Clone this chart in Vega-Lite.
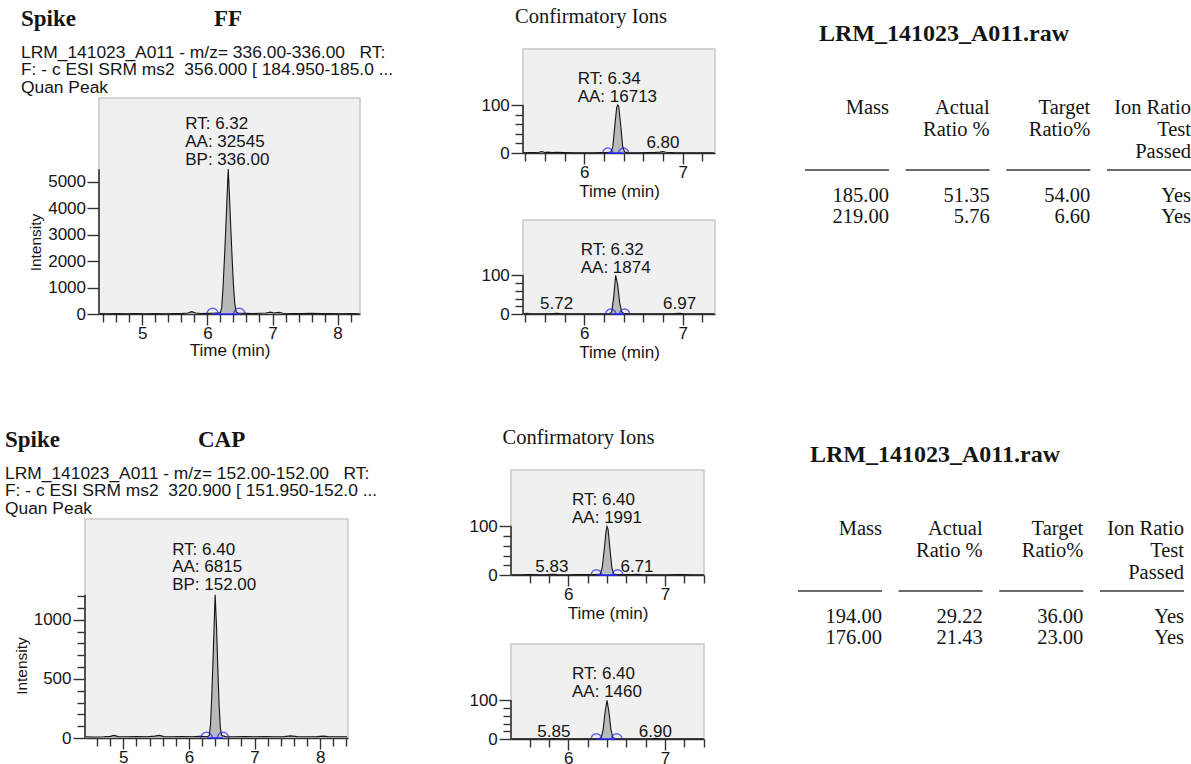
{
  "$schema": "https://vega.github.io/schema/vega-lite/v6.json",
  "background": "white",
  "padding": {"left": 5, "top": 5, "right": 0, "bottom": 0},
  "config": {
    "view": {"stroke": null},
    "font": "Liberation Sans",
    "axis": {
      "domainColor": "#333333", "domainWidth": 1.6,
      "tickColor": "#333333", "tickWidth": 1.4,
      "labelFont": "Liberation Sans", "labelFontSize": 17, "labelColor": "#151515",
      "titleFont": "Liberation Sans", "titleFontSize": 17, "titleFontWeight": "normal", "titleColor": "#151515",
      "grid": false, "labelFlush": false, "labelOverlap": false
    },
    "axisY": {"titleFontSize": 15.5},
    "text": {"font": "Liberation Sans", "fontSize": 17, "color": "#151515"},
    "title": {"color": "#151515"}
  },
  "datasets": {
    "ffQuan": [
      {"t": 4.34, "v": 15}, {"t": 4.45, "v": 10}, {"t": 4.6, "v": 20}, {"t": 4.75, "v": 10}, {"t": 4.9, "v": 15},
      {"t": 5.05, "v": 10}, {"t": 5.2, "v": 20}, {"t": 5.35, "v": 10}, {"t": 5.5, "v": 15}, {"t": 5.62, "v": 25},
      {"t": 5.7, "v": 40}, {"t": 5.76, "v": 90}, {"t": 5.82, "v": 40}, {"t": 5.9, "v": 20}, {"t": 6.0, "v": 25},
      {"t": 6.08, "v": 30}, {"t": 6.14, "v": 35}, {"t": 6.18, "v": 40}, {"t": 6.2, "v": 60}, {"t": 6.22, "v": 250},
      {"t": 6.24, "v": 1000}, {"t": 6.26, "v": 2000}, {"t": 6.28, "v": 3100}, {"t": 6.3, "v": 4300}, {"t": 6.32, "v": 5470},
      {"t": 6.34, "v": 4400}, {"t": 6.36, "v": 3200}, {"t": 6.38, "v": 2100}, {"t": 6.4, "v": 1100}, {"t": 6.42, "v": 400},
      {"t": 6.44, "v": 90}, {"t": 6.47, "v": 40}, {"t": 6.52, "v": 30}, {"t": 6.6, "v": 25}, {"t": 6.7, "v": 20},
      {"t": 6.8, "v": 30}, {"t": 6.9, "v": 40}, {"t": 6.97, "v": 70}, {"t": 7.02, "v": 40}, {"t": 7.1, "v": 60},
      {"t": 7.16, "v": 30}, {"t": 7.3, "v": 20}, {"t": 7.45, "v": 15}, {"t": 7.6, "v": 25}, {"t": 7.75, "v": 15},
      {"t": 7.9, "v": 20}, {"t": 8.05, "v": 10}, {"t": 8.2, "v": 15}, {"t": 8.33, "v": 10}
    ],
    "ffQuanBounds": [{"t": 6.08}, {"t": 6.49}],
    "ffQuanWindow": [{"start": 6.08, "end": 6.49}],
    "ffIon1": [
      {"t": 5.38, "v": 0.5}, {"t": 5.45, "v": 0.8}, {"t": 5.5, "v": 1}, {"t": 5.54, "v": 1.5}, {"t": 5.57, "v": 3},
      {"t": 5.6, "v": 1.2}, {"t": 5.63, "v": 1.8}, {"t": 5.67, "v": 1}, {"t": 5.72, "v": 1.2}, {"t": 5.8, "v": 0.8},
      {"t": 5.9, "v": 0.6}, {"t": 6.0, "v": 0.5}, {"t": 6.1, "v": 0.6}, {"t": 6.18, "v": 0.8}, {"t": 6.24, "v": 1},
      {"t": 6.27, "v": 2}, {"t": 6.29, "v": 12}, {"t": 6.31, "v": 55}, {"t": 6.33, "v": 95}, {"t": 6.34, "v": 100},
      {"t": 6.35, "v": 98}, {"t": 6.37, "v": 60}, {"t": 6.39, "v": 15}, {"t": 6.41, "v": 2}, {"t": 6.44, "v": 0.8},
      {"t": 6.55, "v": 0.6}, {"t": 6.65, "v": 0.8}, {"t": 6.72, "v": 1.2}, {"t": 6.77, "v": 1.8}, {"t": 6.8, "v": 2.8},
      {"t": 6.83, "v": 1.5}, {"t": 6.9, "v": 0.8}, {"t": 7.0, "v": 0.6}, {"t": 7.1, "v": 0.5}, {"t": 7.2, "v": 0.6},
      {"t": 7.32, "v": 0.5}
    ],
    "ffIon1Bounds": [{"t": 6.24}, {"t": 6.4}],
    "ffIon1Window": [{"start": 6.24, "end": 6.4}],
    "ffIon2": [
      {"t": 5.38, "v": 0.5}, {"t": 5.42, "v": 2}, {"t": 5.45, "v": 0.8}, {"t": 5.55, "v": 0.6}, {"t": 5.65, "v": 0.8},
      {"t": 5.72, "v": 1.8}, {"t": 5.78, "v": 0.8}, {"t": 5.9, "v": 0.6}, {"t": 6.0, "v": 0.5}, {"t": 6.1, "v": 0.6},
      {"t": 6.2, "v": 0.7}, {"t": 6.26, "v": 1}, {"t": 6.28, "v": 6}, {"t": 6.3, "v": 45}, {"t": 6.32, "v": 100},
      {"t": 6.34, "v": 75}, {"t": 6.36, "v": 30}, {"t": 6.38, "v": 6}, {"t": 6.4, "v": 1.5}, {"t": 6.45, "v": 0.8},
      {"t": 6.55, "v": 0.6}, {"t": 6.65, "v": 0.8}, {"t": 6.75, "v": 0.6}, {"t": 6.85, "v": 0.8}, {"t": 6.92, "v": 1},
      {"t": 6.97, "v": 1.8}, {"t": 7.02, "v": 0.8}, {"t": 7.1, "v": 0.6}, {"t": 7.2, "v": 0.7}, {"t": 7.32, "v": 0.5}
    ],
    "ffIon2Bounds": [{"t": 6.27}, {"t": 6.41}],
    "ffIon2Window": [{"start": 6.27, "end": 6.41}],
    "capQuan": [
      {"t": 4.42, "v": 10}, {"t": 4.55, "v": 8}, {"t": 4.7, "v": 10}, {"t": 4.8, "v": 14}, {"t": 4.86, "v": 22},
      {"t": 4.92, "v": 12}, {"t": 5.05, "v": 10}, {"t": 5.2, "v": 12}, {"t": 5.35, "v": 10}, {"t": 5.48, "v": 16},
      {"t": 5.55, "v": 22}, {"t": 5.62, "v": 12}, {"t": 5.75, "v": 10}, {"t": 5.9, "v": 12}, {"t": 6.05, "v": 10},
      {"t": 6.15, "v": 14}, {"t": 6.24, "v": 12}, {"t": 6.29, "v": 15}, {"t": 6.31, "v": 20}, {"t": 6.33, "v": 120},
      {"t": 6.35, "v": 380}, {"t": 6.37, "v": 700}, {"t": 6.39, "v": 1050}, {"t": 6.4, "v": 1210}, {"t": 6.42, "v": 950},
      {"t": 6.44, "v": 600}, {"t": 6.46, "v": 280}, {"t": 6.48, "v": 80}, {"t": 6.5, "v": 20}, {"t": 6.56, "v": 12},
      {"t": 6.7, "v": 10}, {"t": 6.85, "v": 12}, {"t": 7.0, "v": 10}, {"t": 7.15, "v": 12}, {"t": 7.3, "v": 10},
      {"t": 7.45, "v": 12}, {"t": 7.55, "v": 18}, {"t": 7.65, "v": 12}, {"t": 7.8, "v": 10}, {"t": 7.95, "v": 12},
      {"t": 8.05, "v": 16}, {"t": 8.12, "v": 12}, {"t": 8.25, "v": 10}, {"t": 8.41, "v": 10}
    ],
    "capQuanBounds": [{"t": 6.27}, {"t": 6.52}],
    "capQuanWindow": [{"start": 6.27, "end": 6.52}],
    "capIon1": [
      {"t": 5.41, "v": 0.5}, {"t": 5.5, "v": 0.6}, {"t": 5.6, "v": 0.8}, {"t": 5.7, "v": 0.6}, {"t": 5.78, "v": 0.8},
      {"t": 5.83, "v": 1.5}, {"t": 5.88, "v": 0.8}, {"t": 6.0, "v": 0.6}, {"t": 6.1, "v": 0.7}, {"t": 6.2, "v": 0.8},
      {"t": 6.28, "v": 0.8}, {"t": 6.33, "v": 2}, {"t": 6.35, "v": 15}, {"t": 6.37, "v": 50}, {"t": 6.39, "v": 90},
      {"t": 6.4, "v": 100}, {"t": 6.41, "v": 95}, {"t": 6.43, "v": 55}, {"t": 6.45, "v": 15}, {"t": 6.47, "v": 2},
      {"t": 6.5, "v": 0.8}, {"t": 6.6, "v": 0.7}, {"t": 6.66, "v": 1}, {"t": 6.71, "v": 1.6}, {"t": 6.76, "v": 0.8},
      {"t": 6.85, "v": 0.6}, {"t": 7.0, "v": 0.6}, {"t": 7.15, "v": 0.7}, {"t": 7.3, "v": 0.6}, {"t": 7.4, "v": 0.5}
    ],
    "capIon1Bounds": [{"t": 6.29}, {"t": 6.51}],
    "capIon1Window": [{"start": 6.29, "end": 6.51}],
    "capIon2": [
      {"t": 5.41, "v": 0.5}, {"t": 5.5, "v": 0.6}, {"t": 5.6, "v": 0.7}, {"t": 5.7, "v": 0.6}, {"t": 5.8, "v": 0.8},
      {"t": 5.85, "v": 1.4}, {"t": 5.9, "v": 0.8}, {"t": 6.0, "v": 0.6}, {"t": 6.1, "v": 0.7}, {"t": 6.2, "v": 0.6},
      {"t": 6.3, "v": 0.8}, {"t": 6.34, "v": 3}, {"t": 6.36, "v": 25}, {"t": 6.38, "v": 70}, {"t": 6.4, "v": 100},
      {"t": 6.42, "v": 70}, {"t": 6.44, "v": 25}, {"t": 6.46, "v": 4}, {"t": 6.49, "v": 0.8}, {"t": 6.6, "v": 0.6},
      {"t": 6.7, "v": 0.7}, {"t": 6.8, "v": 0.6}, {"t": 6.86, "v": 0.8}, {"t": 6.9, "v": 1.5}, {"t": 6.95, "v": 0.8},
      {"t": 7.05, "v": 0.6}, {"t": 7.2, "v": 0.7}, {"t": 7.4, "v": 0.5}
    ],
    "capIon2Bounds": [{"t": 6.29}, {"t": 6.5}],
    "capIon2Window": [{"start": 6.29, "end": 6.5}],
    "ionHeader": [
      {"col": "mass", "line": 1, "text": "Mass"},
      {"col": "actual", "line": 1, "text": "Actual"},
      {"col": "actual", "line": 2, "text": "Ratio %"},
      {"col": "target", "line": 1, "text": "Target"},
      {"col": "target", "line": 2, "text": "Ratio%"},
      {"col": "passed", "line": 1, "text": "Ion Ratio"},
      {"col": "passed", "line": 2, "text": "Test"},
      {"col": "passed", "line": 3, "text": "Passed"}
    ],
    "ionFF": [
      {"line": 5, "mass": "185.00", "actual": "51.35", "target": "54.00", "passed": "Yes"},
      {"line": 6, "mass": "219.00", "actual": "5.76", "target": "6.60", "passed": "Yes"}
    ],
    "ionCAP": [
      {"line": 5, "mass": "194.00", "actual": "29.22", "target": "36.00", "passed": "Yes"},
      {"line": 6, "mass": "176.00", "actual": "21.43", "target": "23.00", "passed": "Yes"}
    ]
  },
  "spacing": 65,
  "vconcat": [
    {
      "spacing": 86,
      "hconcat": [
        {
          "vconcat": [
            {
              "width": 289, "height": 1,
              "data": {"values": [{"t": 0}]},
              "mark": {"type": "point", "opacity": 0},
              "title": {
                "text": "Spike\u00a0\u00a0\u00a0\u00a0\u00a0\u00a0\u00a0\u00a0\u00a0\u00a0\u00a0\u00a0\u00a0\u00a0\u00a0\u00a0\u00a0\u00a0\u00a0\u00a0\u00a0\u00a0\u00a0\u00a0FF",
                "subtitle": ["LRM_141023_A011 - m/z= 336.00-336.00\u00a0\u00a0\u00a0RT:", "F: - c ESI SRM ms2\u00a0\u00a0356.000 [ 184.950-185.0 ...", "Quan Peak"],
                "anchor": "start", "frame": "group", "dx": -64, "offset": -49.5,
                "font": "Liberation Serif", "fontSize": 23, "fontWeight": "bold",
                "subtitleFont": "Liberation Sans", "subtitleFontSize": 17.4, "subtitleColor": "#151515",
                "subtitleLineHeight": 17.5, "subtitlePadding": 12.4
              }
            },
            {
              "width": 261, "height": 216,
              "view": {"fill": "#f0f0f0", "stroke": "#c9c9c9", "strokeWidth": 1.5},
              "resolve": {"axis": {"x": "independent", "y": "independent"}},
              "layer": [
                {
                  "data": {"name": "ffQuan"},
                  "mark": {"type": "area", "color": "#bababa"},
                  "encoding": {
                    "x": {"field": "t", "type": "quantitative", "scale": {"domain": [4.335, 8.344], "nice": false, "zero": false},
                      "axis": {"title": "Time (min)", "values": [5, 6, 7, 8], "tickSize": 11, "labelPadding": 0.5, "titlePadding": 1, "labelOverlap": false, "labelFlush": false}},
                    "y": {"field": "v", "type": "quantitative", "scale": {"domain": [0, 8156], "nice": false},
                      "axis": {"title": "Intensity", "values": [0, 1000, 2000, 3000, 4000, 5000], "format": "d", "domain": false, "tickSize": 12,
                        "labelPadding": 1.5, "titleY": 144, "titlePadding": 4, "labelOverlap": false, "labelFlush": false}}
                  }
                },
                {"data": {"name": "ffQuan"}, "mark": {"type": "line", "color": "#141414", "strokeWidth": 1.1},
                  "encoding": {
                    "x": {"field": "t", "type": "quantitative", "axis": {"orient": "bottom", "values": [4.4, 4.6, 4.8, 5.2, 5.4, 5.6, 5.8, 6.2, 6.4, 6.6, 6.8, 7.2, 7.4, 7.6, 7.8, 8.2], "tickSize": 8, "labels": false, "domain": false, "title": null}},
                    "y": {"field": "v", "type": "quantitative", "axis": null}}},
                {"data": {"name": "ffQuan"}, "transform": [{"aggregate": [{"op": "max", "field": "v", "as": "top"}]}],
                  "mark": {"type": "rule", "color": "#333333", "strokeWidth": 1.6},
                  "encoding": {"x": {"datum": 4.335, "type": "quantitative", "axis": null}, "y": {"field": "top", "type": "quantitative", "axis": null}, "y2": {"datum": 0}}},
                {"data": {"name": "ffQuanWindow"}, "mark": {"type": "rule", "color": "#2323ff", "strokeWidth": 1.5},
                  "encoding": {"x": {"field": "start", "type": "quantitative", "axis": null}, "x2": {"field": "end"}, "y": {"datum": 0, "type": "quantitative", "axis": null}}},
                {"data": {"name": "ffQuanBounds"}, "mark": {"type": "point", "shape": "circle", "filled": false, "color": "#2323ff", "size": 130, "strokeWidth": 1.4, "clip": true},
                  "encoding": {"x": {"field": "t", "type": "quantitative", "axis": null}, "y": {"datum": 0, "type": "quantitative", "axis": null}}},
                {"data": {"values": [{"t": 6.32, "v": 5470, "label": "RT: 6.32\nAA: 32545\nBP: 336.00"}]},
                  "mark": {"type": "text", "align": "left", "baseline": "alphabetic", "dx": -43, "dy": -40, "lineBreak": "\n", "lineHeight": 17.7},
                  "encoding": {"x": {"field": "t", "type": "quantitative", "axis": null}, "y": {"field": "v", "type": "quantitative", "axis": null}, "text": {"field": "label"}}}
              ]
            }
          ],
          "spacing": 48, "bounds": "flush", "center": true
        },
        {
          "vconcat": [
            {
              "width": 192, "height": 104,
              "view": {"fill": "#f0f0f0", "stroke": "#c9c9c9", "strokeWidth": 1.5},
              "title": {"text": "Confirmatory Ions", "anchor": "middle", "frame": "group", "dx": -28, "offset": 22, "font": "Liberation Serif", "fontSize": 20.5, "fontWeight": "normal"},
              "resolve": {"axis": {"x": "independent", "y": "independent"}},
              "layer": [
                {
                  "data": {"name": "ffIon1"},
                  "mark": {"type": "area", "color": "#bababa"},
                  "encoding": {
                    "x": {"field": "t", "type": "quantitative", "scale": {"domain": [5.378, 7.329], "nice": false, "zero": false},
                      "axis": {"title": "Time (min)", "values": [6, 7], "tickSize": 11, "labelPadding": 0.5, "titlePadding": 2.5, "labelOverlap": false, "labelFlush": false}},
                    "y": {"field": "v", "type": "quantitative", "scale": {"domain": [0, 216.7], "nice": false},
                      "axis": {"title": null, "values": [0, 100], "domain": false, "tickSize": 12, "labelPadding": 1.7, "labelOverlap": false, "labelFlush": false}}
                  }
                },
                {"data": {"name": "ffIon1"}, "mark": {"type": "line", "color": "#141414", "strokeWidth": 1.1},
                  "encoding": {
                    "x": {"field": "t", "type": "quantitative", "axis": {"orient": "bottom", "values": [5.4, 5.6, 5.8, 6.2, 6.4, 6.6, 6.8, 7.2], "tickSize": 8, "labels": false, "domain": false, "title": null}},
                    "y": {"field": "v", "type": "quantitative", "axis": {"orient": "left", "values": [20, 40, 60, 80], "tickSize": 8, "labels": false, "domain": false, "title": null}}}},
                {"data": {"name": "ffIon1"}, "transform": [{"aggregate": [{"op": "max", "field": "v", "as": "top"}]}],
                  "mark": {"type": "rule", "color": "#333333", "strokeWidth": 1.6},
                  "encoding": {"x": {"datum": 5.378, "type": "quantitative", "axis": null}, "y": {"field": "top", "type": "quantitative", "axis": null}, "y2": {"datum": 0}}},
                {"data": {"name": "ffIon1Window"}, "mark": {"type": "rule", "color": "#2323ff", "strokeWidth": 1.5},
                  "encoding": {"x": {"field": "start", "type": "quantitative", "axis": null}, "x2": {"field": "end"}, "y": {"datum": 0, "type": "quantitative", "axis": null}}},
                {"data": {"name": "ffIon1Bounds"}, "mark": {"type": "point", "shape": "circle", "filled": false, "color": "#2323ff", "size": 100, "strokeWidth": 1.4, "clip": true},
                  "encoding": {"x": {"field": "t", "type": "quantitative", "axis": null}, "y": {"datum": 0, "type": "quantitative", "axis": null}}},
                {"data": {"values": [{"t": 6.34, "v": 100, "label": "RT: 6.34\nAA: 16713"}]},
                  "mark": {"type": "text", "align": "left", "baseline": "alphabetic", "dx": -40, "dy": -21, "lineBreak": "\n", "lineHeight": 18},
                  "encoding": {"x": {"field": "t", "type": "quantitative", "axis": null}, "y": {"field": "v", "type": "quantitative", "axis": null}, "text": {"field": "label"}}},
                {"data": {"values": [{"t": 6.8, "v": 2.8, "label": "6.80"}]},
                  "mark": {"type": "text", "align": "center", "baseline": "alphabetic", "dy": -4},
                  "encoding": {"x": {"field": "t", "type": "quantitative", "axis": null}, "y": {"field": "v", "type": "quantitative", "axis": null}, "text": {"field": "label"}}}
              ]
            },
            {
              "width": 192, "height": 94,
              "view": {"fill": "#f0f0f0", "stroke": "#c9c9c9", "strokeWidth": 1.5},
              "resolve": {"axis": {"x": "independent", "y": "independent"}},
              "layer": [
                {
                  "data": {"name": "ffIon2"},
                  "mark": {"type": "area", "color": "#bababa"},
                  "encoding": {
                    "x": {"field": "t", "type": "quantitative", "scale": {"domain": [5.378, 7.329], "nice": false, "zero": false},
                      "axis": {"title": "Time (min)", "values": [6, 7], "tickSize": 11, "labelPadding": 0.5, "titlePadding": 2.5, "labelOverlap": false, "labelFlush": false}},
                    "y": {"field": "v", "type": "quantitative", "scale": {"domain": [0, 243], "nice": false},
                      "axis": {"title": null, "values": [0, 100], "domain": false, "tickSize": 12, "labelPadding": 1.7, "labelOverlap": false, "labelFlush": false}}
                  }
                },
                {"data": {"name": "ffIon2"}, "mark": {"type": "line", "color": "#141414", "strokeWidth": 1.1},
                  "encoding": {
                    "x": {"field": "t", "type": "quantitative", "axis": {"orient": "bottom", "values": [5.4, 5.6, 5.8, 6.2, 6.4, 6.6, 6.8, 7.2], "tickSize": 8, "labels": false, "domain": false, "title": null}},
                    "y": {"field": "v", "type": "quantitative", "axis": {"orient": "left", "values": [20, 40, 60, 80], "tickSize": 8, "labels": false, "domain": false, "title": null}}}},
                {"data": {"name": "ffIon2"}, "transform": [{"aggregate": [{"op": "max", "field": "v", "as": "top"}]}],
                  "mark": {"type": "rule", "color": "#333333", "strokeWidth": 1.6},
                  "encoding": {"x": {"datum": 5.378, "type": "quantitative", "axis": null}, "y": {"field": "top", "type": "quantitative", "axis": null}, "y2": {"datum": 0}}},
                {"data": {"name": "ffIon2Window"}, "mark": {"type": "rule", "color": "#2323ff", "strokeWidth": 1.5},
                  "encoding": {"x": {"field": "start", "type": "quantitative", "axis": null}, "x2": {"field": "end"}, "y": {"datum": 0, "type": "quantitative", "axis": null}}},
                {"data": {"name": "ffIon2Bounds"}, "mark": {"type": "point", "shape": "circle", "filled": false, "color": "#2323ff", "size": 100, "strokeWidth": 1.4, "clip": true},
                  "encoding": {"x": {"field": "t", "type": "quantitative", "axis": null}, "y": {"datum": 0, "type": "quantitative", "axis": null}}},
                {"data": {"values": [{"t": 6.32, "v": 100, "label": "RT: 6.32\nAA: 1874"}]},
                  "mark": {"type": "text", "align": "left", "baseline": "alphabetic", "dx": -35, "dy": -20, "lineBreak": "\n", "lineHeight": 17.5},
                  "encoding": {"x": {"field": "t", "type": "quantitative", "axis": null}, "y": {"field": "v", "type": "quantitative", "axis": null}, "text": {"field": "label"}}},
                {"data": {"values": [{"t": 5.72, "v": 1.8, "label": "5.72"}, {"t": 6.97, "v": 1.8, "label": "6.97"}]},
                  "mark": {"type": "text", "align": "center", "baseline": "alphabetic", "dy": -4},
                  "encoding": {"x": {"field": "t", "type": "quantitative", "axis": null}, "y": {"field": "v", "type": "quantitative", "axis": null}, "text": {"field": "label"}}}
              ]
            }
          ],
          "spacing": 67, "bounds": "flush"
        },
        {
          "width": 386, "height": 218,
          "title": {"text": "LRM_141023_A011.raw", "anchor": "start", "frame": "group", "dx": 14, "offset": 3, "font": "Liberation Serif", "fontSize": 24, "fontWeight": "bold"},
          "layer": [
            {"data": {"name": "ionHeader"},
              "mark": {"type": "text", "align": "right", "baseline": "alphabetic", "font": "Liberation Serif", "fontSize": 20.5},
              "encoding": {
                "x": {"field": "col", "type": "nominal", "scale": {"type": "point", "domain": ["mass", "actual", "target", "passed"], "padding": 0.417, "align": 1}, "axis": null},
                "y": {"field": "line", "type": "quantitative", "scale": {"domain": [-2, 8], "reverse": true, "nice": false, "zero": false}, "axis": null},
                "text": {"field": "text"}}},
            {"data": {"name": "ionHeader"}, "transform": [{"filter": "datum.line === 1"}],
              "mark": {"type": "rule", "xOffset": -84, "strokeWidth": 1.6, "color": "#3a3a3a"},
              "encoding": {"x": {"field": "col", "type": "nominal"}, "x2": {"field": "col"}, "y": {"datum": 3.55, "type": "quantitative"}}},
            {"data": {"name": "ionFF"}, "transform": [{"fold": ["mass", "actual", "target", "passed"], "as": ["col", "text"]}],
              "mark": {"type": "text", "align": "right", "baseline": "alphabetic", "font": "Liberation Serif", "fontSize": 20.5},
              "encoding": {"x": {"field": "col", "type": "nominal"}, "y": {"field": "line", "type": "quantitative"}, "text": {"field": "text"}}}
          ]
        }
      ]
    },
    {
      "spacing": 90,
      "hconcat": [
        {
          "vconcat": [
            {
              "width": 263, "height": 1,
              "data": {"values": [{"t": 0}]},
              "mark": {"type": "point", "opacity": 0},
              "title": {
                "text": "Spike\u00a0\u00a0\u00a0\u00a0\u00a0\u00a0\u00a0\u00a0\u00a0\u00a0\u00a0\u00a0\u00a0\u00a0\u00a0\u00a0\u00a0\u00a0\u00a0\u00a0\u00a0\u00a0\u00a0\u00a0CAP",
                "subtitle": ["LRM_141023_A011 - m/z= 152.00-152.00\u00a0\u00a0\u00a0RT:", "F: - c ESI SRM ms2\u00a0\u00a0320.900 [ 151.950-152.0 ...", "Quan Peak"],
                "anchor": "start", "frame": "group", "dx": -80, "offset": -49.5,
                "font": "Liberation Serif", "fontSize": 23, "fontWeight": "bold",
                "subtitleFont": "Liberation Sans", "subtitleFontSize": 17.4, "subtitleColor": "#151515",
                "subtitleLineHeight": 17.5, "subtitlePadding": 12.4
              }
            },
            {
              "width": 263, "height": 219,
              "view": {"fill": "#f0f0f0", "stroke": "#c9c9c9", "strokeWidth": 1.5},
              "resolve": {"axis": {"x": "independent", "y": "independent"}},
              "layer": [
                {
                  "data": {"name": "capQuan"},
                  "mark": {"type": "area", "color": "#bababa"},
                  "encoding": {
                    "x": {"field": "t", "type": "quantitative", "scale": {"domain": [4.416, 8.425], "nice": false, "zero": false},
                      "axis": {"title": null, "values": [5, 6, 7, 8], "tickSize": 11, "labelPadding": 0.5, "labelOverlap": false, "labelFlush": false}},
                    "y": {"field": "v", "type": "quantitative", "scale": {"domain": [0, 1851], "nice": false},
                      "axis": {"title": "Intensity", "values": [0, 500, 1000], "format": "d", "domain": false, "tickSize": 12,
                        "labelPadding": 2, "titleY": 146.5, "titlePadding": 4, "labelOverlap": false, "labelFlush": false}}
                  }
                },
                {"data": {"name": "capQuan"}, "mark": {"type": "line", "color": "#141414", "strokeWidth": 1.1},
                  "encoding": {
                    "x": {"field": "t", "type": "quantitative", "axis": {"orient": "bottom", "values": [4.6, 4.8, 5.2, 5.4, 5.6, 5.8, 6.2, 6.4, 6.6, 6.8, 7.2, 7.4, 7.6, 7.8, 8.2, 8.4], "tickSize": 8, "labels": false, "domain": false, "title": null}},
                    "y": {"field": "v", "type": "quantitative", "axis": {"orient": "left", "values": [100, 200, 300, 400, 600, 700, 800, 900, 1100, 1200], "tickSize": 8, "labels": false, "domain": false, "title": null}}}},
                {"data": {"name": "capQuan"}, "transform": [{"aggregate": [{"op": "max", "field": "v", "as": "top"}]}],
                  "mark": {"type": "rule", "color": "#333333", "strokeWidth": 1.6},
                  "encoding": {"x": {"datum": 4.416, "type": "quantitative", "axis": null}, "y": {"field": "top", "type": "quantitative", "axis": null}, "y2": {"datum": 0}}},
                {"data": {"name": "capQuanWindow"}, "mark": {"type": "rule", "color": "#2323ff", "strokeWidth": 1.5},
                  "encoding": {"x": {"field": "start", "type": "quantitative", "axis": null}, "x2": {"field": "end"}, "y": {"datum": 0, "type": "quantitative", "axis": null}}},
                {"data": {"name": "capQuanBounds"}, "mark": {"type": "point", "shape": "circle", "filled": false, "color": "#2323ff", "size": 130, "strokeWidth": 1.4, "clip": true},
                  "encoding": {"x": {"field": "t", "type": "quantitative", "axis": null}, "y": {"datum": 0, "type": "quantitative", "axis": null}}},
                {"data": {"values": [{"t": 6.4, "v": 1210, "label": "RT: 6.40\nAA: 6815\nBP: 152.00"}]},
                  "mark": {"type": "text", "align": "left", "baseline": "alphabetic", "dx": -43, "dy": -40, "lineBreak": "\n", "lineHeight": 17.5},
                  "encoding": {"x": {"field": "t", "type": "quantitative", "axis": null}, "y": {"field": "v", "type": "quantitative", "axis": null}, "text": {"field": "label"}}}
              ]
            }
          ],
          "spacing": 48, "bounds": "flush", "center": true
        },
        {
          "vconcat": [
            {
              "width": 193, "height": 105,
              "view": {"fill": "#f0f0f0", "stroke": "#c9c9c9", "strokeWidth": 1.5},
              "title": {"text": "Confirmatory Ions", "anchor": "middle", "frame": "group", "dx": -29, "offset": 22, "font": "Liberation Serif", "fontSize": 20.5, "fontWeight": "normal"},
              "resolve": {"axis": {"x": "independent", "y": "independent"}},
              "layer": [
                {
                  "data": {"name": "capIon1"},
                  "mark": {"type": "area", "color": "#bababa"},
                  "encoding": {
                    "x": {"field": "t", "type": "quantitative", "scale": {"domain": [5.407, 7.403], "nice": false, "zero": false},
                      "axis": {"title": "Time (min)", "values": [6, 7], "tickSize": 11, "labelPadding": 0.5, "titlePadding": 2.5, "labelOverlap": false, "labelFlush": false}},
                    "y": {"field": "v", "type": "quantitative", "scale": {"domain": [0, 216], "nice": false},
                      "axis": {"title": null, "values": [0, 100], "domain": false, "tickSize": 12, "labelPadding": 1.7, "labelOverlap": false, "labelFlush": false}}
                  }
                },
                {"data": {"name": "capIon1"}, "mark": {"type": "line", "color": "#141414", "strokeWidth": 1.1},
                  "encoding": {
                    "x": {"field": "t", "type": "quantitative", "axis": {"orient": "bottom", "values": [5.6, 5.8, 6.2, 6.4, 6.6, 6.8, 7.2, 7.4], "tickSize": 8, "labels": false, "domain": false, "title": null}},
                    "y": {"field": "v", "type": "quantitative", "axis": {"orient": "left", "values": [20, 40, 60, 80], "tickSize": 8, "labels": false, "domain": false, "title": null}}}},
                {"data": {"name": "capIon1"}, "transform": [{"aggregate": [{"op": "max", "field": "v", "as": "top"}]}],
                  "mark": {"type": "rule", "color": "#333333", "strokeWidth": 1.6},
                  "encoding": {"x": {"datum": 5.407, "type": "quantitative", "axis": null}, "y": {"field": "top", "type": "quantitative", "axis": null}, "y2": {"datum": 0}}},
                {"data": {"name": "capIon1Window"}, "mark": {"type": "rule", "color": "#2323ff", "strokeWidth": 1.5},
                  "encoding": {"x": {"field": "start", "type": "quantitative", "axis": null}, "x2": {"field": "end"}, "y": {"datum": 0, "type": "quantitative", "axis": null}}},
                {"data": {"name": "capIon1Bounds"}, "mark": {"type": "point", "shape": "circle", "filled": false, "color": "#2323ff", "size": 110, "strokeWidth": 1.4, "clip": true},
                  "encoding": {"x": {"field": "t", "type": "quantitative", "axis": null}, "y": {"datum": 0, "type": "quantitative", "axis": null}}},
                {"data": {"values": [{"t": 6.4, "v": 100, "label": "RT: 6.40\nAA: 1991"}]},
                  "mark": {"type": "text", "align": "left", "baseline": "alphabetic", "dx": -35, "dy": -21, "lineBreak": "\n", "lineHeight": 17.7},
                  "encoding": {"x": {"field": "t", "type": "quantitative", "axis": null}, "y": {"field": "v", "type": "quantitative", "axis": null}, "text": {"field": "label"}}},
                {"data": {"values": [{"t": 5.83, "v": 1.5, "label": "5.83"}, {"t": 6.71, "v": 1.6, "label": "6.71"}]},
                  "mark": {"type": "text", "align": "center", "baseline": "alphabetic", "dy": -2},
                  "encoding": {"x": {"field": "t", "type": "quantitative", "axis": null}, "y": {"field": "v", "type": "quantitative", "axis": null}, "text": {"field": "label"}}}
              ]
            },
            {
              "width": 193, "height": 95,
              "view": {"fill": "#f0f0f0", "stroke": "#c9c9c9", "strokeWidth": 1.5},
              "resolve": {"axis": {"x": "independent", "y": "independent"}},
              "layer": [
                {
                  "data": {"name": "capIon2"},
                  "mark": {"type": "area", "color": "#bababa"},
                  "encoding": {
                    "x": {"field": "t", "type": "quantitative", "scale": {"domain": [5.407, 7.403], "nice": false, "zero": false},
                      "axis": {"title": null, "values": [6, 7], "tickSize": 11, "labelPadding": 0.5, "labelOverlap": false, "labelFlush": false}},
                    "y": {"field": "v", "type": "quantitative", "scale": {"domain": [0, 246], "nice": false},
                      "axis": {"title": null, "values": [0, 100], "domain": false, "tickSize": 12, "labelPadding": 1.7, "labelOverlap": false, "labelFlush": false}}
                  }
                },
                {"data": {"name": "capIon2"}, "mark": {"type": "line", "color": "#141414", "strokeWidth": 1.1},
                  "encoding": {
                    "x": {"field": "t", "type": "quantitative", "axis": {"orient": "bottom", "values": [5.6, 5.8, 6.2, 6.4, 6.6, 6.8, 7.2, 7.4], "tickSize": 8, "labels": false, "domain": false, "title": null}},
                    "y": {"field": "v", "type": "quantitative", "axis": {"orient": "left", "values": [20, 40, 60, 80], "tickSize": 8, "labels": false, "domain": false, "title": null}}}},
                {"data": {"name": "capIon2"}, "transform": [{"aggregate": [{"op": "max", "field": "v", "as": "top"}]}],
                  "mark": {"type": "rule", "color": "#333333", "strokeWidth": 1.6},
                  "encoding": {"x": {"datum": 5.407, "type": "quantitative", "axis": null}, "y": {"field": "top", "type": "quantitative", "axis": null}, "y2": {"datum": 0}}},
                {"data": {"name": "capIon2Window"}, "mark": {"type": "rule", "color": "#2323ff", "strokeWidth": 1.5},
                  "encoding": {"x": {"field": "start", "type": "quantitative", "axis": null}, "x2": {"field": "end"}, "y": {"datum": 0, "type": "quantitative", "axis": null}}},
                {"data": {"name": "capIon2Bounds"}, "mark": {"type": "point", "shape": "circle", "filled": false, "color": "#2323ff", "size": 110, "strokeWidth": 1.4, "clip": true},
                  "encoding": {"x": {"field": "t", "type": "quantitative", "axis": null}, "y": {"datum": 0, "type": "quantitative", "axis": null}}},
                {"data": {"values": [{"t": 6.4, "v": 100, "label": "RT: 6.40\nAA: 1460"}]},
                  "mark": {"type": "text", "align": "left", "baseline": "alphabetic", "dx": -35, "dy": -21, "lineBreak": "\n", "lineHeight": 17.7},
                  "encoding": {"x": {"field": "t", "type": "quantitative", "axis": null}, "y": {"field": "v", "type": "quantitative", "axis": null}, "text": {"field": "label"}}},
                {"data": {"values": [{"t": 5.85, "v": 1.4, "label": "5.85"}, {"t": 6.9, "v": 1.5, "label": "6.90"}]},
                  "mark": {"type": "text", "align": "center", "baseline": "alphabetic", "dy": -1.5},
                  "encoding": {"x": {"field": "t", "type": "quantitative", "axis": null}, "y": {"field": "v", "type": "quantitative", "axis": null}, "text": {"field": "label"}}}
              ]
            }
          ],
          "spacing": 69, "bounds": "flush"
        },
        {
          "width": 386, "height": 218,
          "title": {"text": "LRM_141023_A011.raw", "anchor": "start", "frame": "group", "dx": 12, "offset": 3.5, "font": "Liberation Serif", "fontSize": 24, "fontWeight": "bold"},
          "layer": [
            {"data": {"name": "ionHeader"},
              "mark": {"type": "text", "align": "right", "baseline": "alphabetic", "font": "Liberation Serif", "fontSize": 20.5},
              "encoding": {
                "x": {"field": "col", "type": "nominal", "scale": {"type": "point", "domain": ["mass", "actual", "target", "passed"], "padding": 0.417, "align": 1}, "axis": null},
                "y": {"field": "line", "type": "quantitative", "scale": {"domain": [-2, 8], "reverse": true, "nice": false, "zero": false}, "axis": null},
                "text": {"field": "text"}}},
            {"data": {"name": "ionHeader"}, "transform": [{"filter": "datum.line === 1"}],
              "mark": {"type": "rule", "xOffset": -84, "strokeWidth": 1.6, "color": "#3a3a3a"},
              "encoding": {"x": {"field": "col", "type": "nominal"}, "x2": {"field": "col"}, "y": {"datum": 3.55, "type": "quantitative"}}},
            {"data": {"name": "ionCAP"}, "transform": [{"fold": ["mass", "actual", "target", "passed"], "as": ["col", "text"]}],
              "mark": {"type": "text", "align": "right", "baseline": "alphabetic", "font": "Liberation Serif", "fontSize": 20.5},
              "encoding": {"x": {"field": "col", "type": "nominal"}, "y": {"field": "line", "type": "quantitative"}, "text": {"field": "text"}}}
          ]
        }
      ]
    }
  ]
}
